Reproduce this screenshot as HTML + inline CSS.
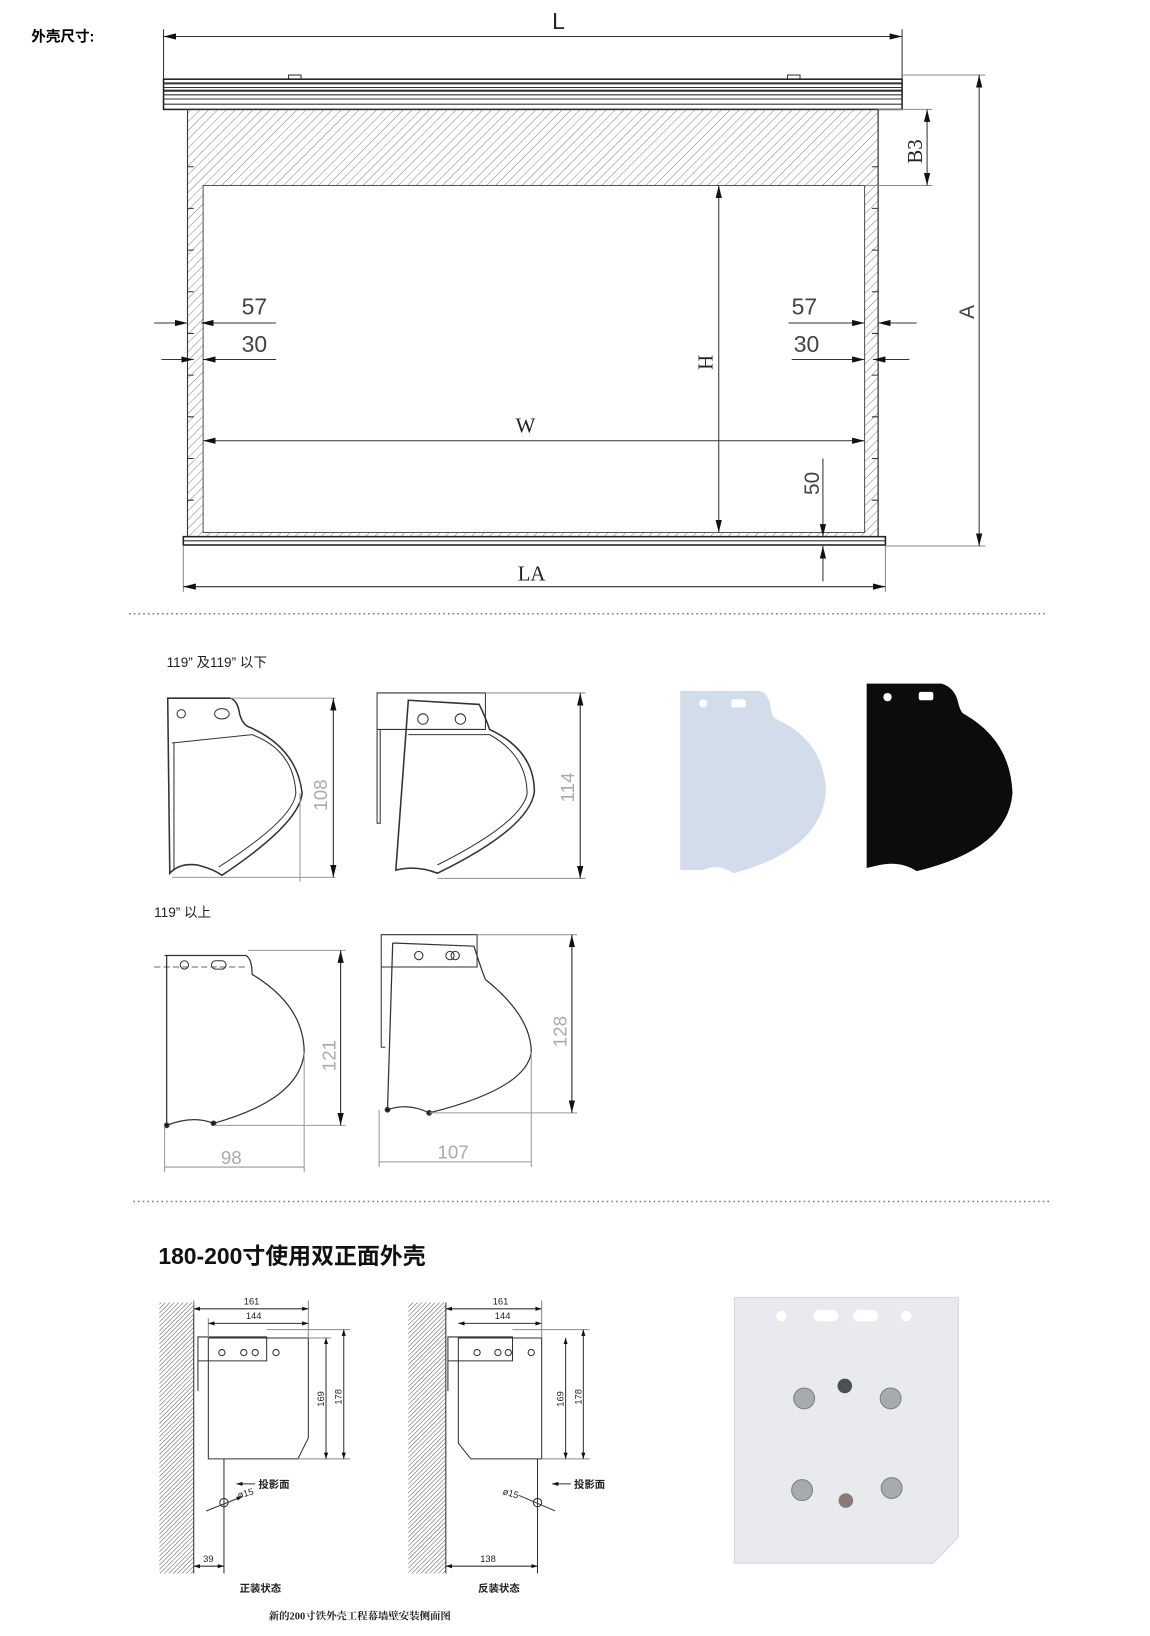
<!DOCTYPE html>
<html><head><meta charset="utf-8"><style>html,body{margin:0;padding:0;background:#fff}svg{display:block}</style></head>
<body>
<svg width="1150" height="1636" viewBox="0 0 1104 1570" preserveAspectRatio="none" xmlns="http://www.w3.org/2000/svg" font-family="Liberation Sans, Noto Sans CJK SC, sans-serif">
<defs>
<pattern id="h" width="6" height="6" patternUnits="userSpaceOnUse" patternTransform="rotate(45)"><line x1="0" y1="0" x2="0" y2="6" stroke="#666" stroke-width="0.8"/></pattern>
<pattern id="w" width="3" height="3" patternUnits="userSpaceOnUse" patternTransform="rotate(45)"><line x1="0" y1="0" x2="0" y2="3" stroke="#555" stroke-width="1"/></pattern>
<marker id="a" markerWidth="12" markerHeight="6" refX="12" refY="3" orient="auto" markerUnits="userSpaceOnUse"><path d="M0,0 L12,3 L0,6z" fill="#111"/></marker>
<marker id="b" markerWidth="12" markerHeight="6" refX="0" refY="3" orient="auto" markerUnits="userSpaceOnUse"><path d="M12,0 L0,3 L12,6z" fill="#111"/></marker>
<marker id="sa" markerWidth="6" markerHeight="4" refX="6" refY="2" orient="auto" markerUnits="userSpaceOnUse"><path d="M0,0 L6,2 L0,4z" fill="#111"/></marker>
<marker id="sb" markerWidth="6" markerHeight="4" refX="0" refY="2" orient="auto" markerUnits="userSpaceOnUse"><path d="M6,0 L0,2 L6,4z" fill="#111"/></marker>
</defs>
<text x="30" y="40" font-size="14" font-weight="bold">外壳尺寸:</text>

<!-- TOP DRAWING -->
<g stroke="#333" fill="none" stroke-width="1">
<line x1="157" y1="28" x2="157" y2="76"/><line x1="866" y1="28" x2="866" y2="76"/>
<line x1="157" y1="35" x2="866" y2="35" marker-start="url(#b)" marker-end="url(#a)"/>
<rect x="277" y="72" width="12" height="4" fill="#fff"/><rect x="756" y="72" width="12" height="4" fill="#fff"/>
<rect x="157" y="76" width="709" height="29" fill="#fff" stroke="#222" stroke-width="1.5"/>
<line x1="157" y1="80" x2="866" y2="80" stroke-width="2"/><line x1="157" y1="84" x2="866" y2="84"/><line x1="157" y1="87" x2="866" y2="87" stroke-width="2"/><line x1="157" y1="91" x2="866" y2="91"/><line x1="157" y1="95" x2="866" y2="95"/><line x1="157" y1="100" x2="866" y2="100"/>
<path d="M180,105 H843 V515 H180 Z" fill="url(#h)" stroke="#333"/>
<rect x="195" y="178" width="635" height="333" fill="#fff" stroke="#555"/>
<line x1="180" y1="105" x2="180" y2="515"/><line x1="843" y1="105" x2="843" y2="515"/>
<path d="M180,160 h6 M180,200 h6 M180,240 h6 M180,280 h6 M180,320 h6 M180,360 h6 M180,400 h6 M180,440 h6 M180,480 h6 M843,160 h-6 M843,200 h-6 M843,240 h-6 M843,280 h-6 M843,320 h-6 M843,360 h-6 M843,400 h-6 M843,440 h-6 M843,480 h-6"/>
<rect x="176" y="515" width="674" height="8" fill="#fff" stroke="#222" stroke-width="1.5"/>
<line x1="176" y1="519" x2="850" y2="519"/>
<!-- A -->
<line x1="866" y1="72" x2="946" y2="72" stroke="#888"/><line x1="850" y1="524" x2="946" y2="524" stroke="#888"/>
<line x1="940" y1="72" x2="940" y2="524" marker-start="url(#b)" marker-end="url(#a)"/>
<!-- B3 -->
<line x1="843" y1="105" x2="895" y2="105" stroke="#888"/><line x1="830" y1="178" x2="895" y2="178" stroke="#888"/>
<line x1="890" y1="105" x2="890" y2="178" marker-start="url(#b)" marker-end="url(#a)"/>
<!-- H -->
<line x1="690" y1="178" x2="690" y2="511" marker-start="url(#b)" marker-end="url(#a)"/>
<!-- W -->
<line x1="195" y1="423" x2="830" y2="423" marker-start="url(#b)" marker-end="url(#a)"/>
<!-- LA -->
<line x1="176" y1="524" x2="176" y2="568" stroke="#888"/><line x1="850" y1="524" x2="850" y2="568" stroke="#888"/>
<line x1="176" y1="563" x2="850" y2="563" marker-start="url(#b)" marker-end="url(#a)"/>
<!-- 50 -->
<line x1="790" y1="440" x2="790" y2="515" marker-end="url(#a)"/>
<line x1="790" y1="558" x2="790" y2="524" marker-end="url(#a)"/>
<!-- 57/30 -->
<line x1="148" y1="310" x2="180" y2="310" marker-end="url(#a)"/><line x1="265" y1="310" x2="193" y2="310" marker-end="url(#a)"/>
<line x1="155" y1="345" x2="186" y2="345" marker-end="url(#a)"/><line x1="265" y1="345" x2="195" y2="345" marker-end="url(#a)"/>
<line x1="757" y1="310" x2="830" y2="310" marker-end="url(#a)"/><line x1="880" y1="310" x2="843" y2="310" marker-end="url(#a)"/>
<line x1="760" y1="345" x2="830" y2="345" marker-end="url(#a)"/><line x1="873" y1="345" x2="838" y2="345" marker-end="url(#a)"/>
</g>
<g fill="#222" font-size="22">
<text x="530" y="28">L</text>
<text x="232" y="302" fill="#444">57</text><text x="232" y="338" fill="#444">30</text>
<text x="760" y="302" fill="#444">57</text><text x="762" y="338" fill="#444">30</text>
<text font-family="Liberation Serif, serif" x="495" y="415" font-size="20">W</text>
<text font-family="Liberation Serif, serif" x="497" y="557" font-size="20">LA</text>
<text font-family="Liberation Serif, serif" font-size="20" transform="translate(885,157) rotate(-90)">B3</text>
<text font-family="Liberation Serif, serif" font-size="20" transform="translate(684,355) rotate(-90)">H</text>
<text font-size="20" transform="translate(935,306) rotate(-90)" fill="#444">A</text>
<text font-size="20" transform="translate(786,475) rotate(-90)" fill="#444">50</text>
</g>
<line x1="124" y1="589" x2="1005" y2="589" stroke="#777" stroke-width="1.5" stroke-dasharray="1.5,3"/>

<!-- MIDDLE -->
<g font-size="13" fill="#222"><text x="160" y="640">119” 及119” 以下</text><text x="148" y="880">119” 以上</text></g>
<g fill="none" stroke="#333" stroke-width="1.5">
<path d="M161,670 H221 Q228,672 230,685 Q233,696 240,698 Q285,718 290,761 Q288,790 213,840 Q205,834 189,830 Q172,828 163,838 Z"/>
<path d="M165,713 L242,705 Q282,720 284,761 Q282,786 210,832" stroke-width="1"/>
<line x1="167" y1="713" x2="167" y2="834" stroke-width="1"/>
<circle cx="174" cy="685" r="4" stroke-width="1"/><ellipse cx="213" cy="685" rx="7" ry="5" stroke-width="1"/>
<path d="M362,665 H466 V700 H362 Z M362,665 V790 H365 V700" stroke-width="1"/>
<path d="M392,672 L460,676 Q466,688 470,700 Q513,720 513,760 Q508,795 420,838 Q400,830 380,835 Z"/>
<path d="M392,705 H470 Q506,725 506,762 Q500,790 420,830" stroke-width="1"/>
<circle cx="406" cy="690" r="5" stroke-width="1"/><circle cx="442" cy="690" r="5" stroke-width="1"/>
<path d="M158,917 H236 Q242,920 242,935 Q292,965 292,1010 Q288,1055 205,1078 Q185,1070 160,1080 V917" stroke-width="1.2"/>
<circle cx="160" cy="1080" r="2" fill="#111"/><circle cx="205" cy="1078" r="2" fill="#111"/>
<line x1="148" y1="928" x2="235" y2="928" stroke-width="0.8" stroke-dasharray="6,3"/>
<circle cx="177" cy="926" r="4" stroke-width="1"/><rect x="203" y="922" width="14" height="8" rx="4" stroke-width="1"/>
<path d="M366,897 H458 V928 H366 Z M366,897 V1005 H370" stroke-width="1"/>
<path d="M377,905 L455,908 Q462,930 466,940 Q510,975 510,1010 Q505,1045 412,1068 Q392,1058 372,1065 L377,905" stroke-width="1.2"/>
<circle cx="372" cy="1065" r="2" fill="#111"/><circle cx="412" cy="1068" r="2" fill="#111"/>
<circle cx="402" cy="917" r="4" stroke-width="1"/><circle cx="432" cy="917" r="4" stroke-width="1"/><circle cx="437" cy="917" r="4" stroke-width="1"/>
</g>
<g stroke="#999" stroke-width="1" fill="none">
<line x1="221" y1="670" x2="322" y2="670"/><line x1="165" y1="842" x2="322" y2="842"/><line x1="288" y1="761" x2="288" y2="846"/>
<line x1="466" y1="665" x2="562" y2="665"/><line x1="420" y1="843" x2="562" y2="843"/>
<line x1="238" y1="912" x2="332" y2="912"/><line x1="205" y1="1080" x2="332" y2="1080"/>
<line x1="458" y1="897" x2="554" y2="897"/><line x1="412" y1="1068" x2="554" y2="1068"/>
<line x1="158" y1="1080" x2="158" y2="1125"/><line x1="292" y1="1010" x2="292" y2="1125"/>
<line x1="364" y1="1065" x2="364" y2="1120"/><line x1="510" y1="1010" x2="510" y2="1120"/>
<line x1="158" y1="1120" x2="292" y2="1120"/><line x1="364" y1="1115" x2="510" y2="1115"/>
</g>
<g stroke="#222" stroke-width="1">
<line x1="320" y1="670" x2="320" y2="842" marker-start="url(#b)" marker-end="url(#a)"/>
<line x1="557" y1="665" x2="557" y2="843" marker-start="url(#b)" marker-end="url(#a)"/>
<line x1="327" y1="912" x2="327" y2="1080" marker-start="url(#b)" marker-end="url(#a)"/>
<line x1="549" y1="897" x2="549" y2="1068" marker-start="url(#b)" marker-end="url(#a)"/>
</g>
<g fill="#aaa" font-size="18">
<text transform="translate(314,778) rotate(-90)">108</text>
<text transform="translate(551,770) rotate(-90)">114</text>
<text transform="translate(322,1028) rotate(-90)">121</text>
<text transform="translate(544,1005) rotate(-90)">128</text>
<text x="212" y="1117">98</text><text x="420" y="1112">107</text>
</g>
<!-- photos -->
<path d="M653,663 H729 Q738,665 740,680 Q741,688 745,690 Q790,710 793,758 Q790,815 704,838 Q690,828 675,835 L653,835 Z" fill="#d3dcea"/>
<circle cx="675" cy="675" r="4" fill="#fff"/><rect x="702" y="671" width="14" height="8" rx="2" fill="#fff"/>
<path d="M832,656 H904 Q917,660 920,675 Q922,683 925,685 Q970,710 972,761 Q968,815 880,836 Q865,826 845,830 L832,833 Z" fill="#0c0c0c"/>
<circle cx="852" cy="669" r="4" fill="#fff"/><rect x="882" y="664" width="14" height="8" rx="2" fill="#fff"/>

<line x1="128" y1="1153" x2="1010" y2="1153" stroke="#777" stroke-width="1.5" stroke-dasharray="1.5,3"/>

<!-- BOTTOM -->
<text x="152" y="1213" font-size="22" font-weight="bold" fill="#111">180-200寸使用双正面外壳</text>
<g stroke="#333" stroke-width="1" fill="none">
<rect x="153" y="1250" width="33" height="260" fill="url(#w)" stroke="none"/><line x1="186" y1="1250" x2="186" y2="1510"/>
<path d="M200,1284 H296 V1380 L286,1400 H200 Z"/>
<path d="M190,1283 H256 V1306 H190 Z M190,1283 V1335"/>
<circle cx="213" cy="1298" r="3"/><circle cx="234" cy="1298" r="3"/><circle cx="245" cy="1298" r="3"/><circle cx="265" cy="1298" r="3"/>
<line x1="186" y1="1248" x2="186" y2="1260" stroke="#888"/><line x1="296" y1="1248" x2="296" y2="1284" stroke="#888"/><line x1="200" y1="1265" x2="200" y2="1284" stroke="#888"/>
<line x1="186" y1="1256" x2="296" y2="1256" marker-start="url(#sb)" marker-end="url(#sa)"/>
<line x1="200" y1="1270" x2="296" y2="1270" marker-start="url(#sb)" marker-end="url(#sa)"/>
<line x1="256" y1="1276" x2="336" y2="1276" stroke="#888"/><line x1="296" y1="1284" x2="318" y2="1284" stroke="#888"/><line x1="286" y1="1400" x2="336" y2="1400" stroke="#888"/>
<line x1="313" y1="1284" x2="313" y2="1400" marker-start="url(#sb)" marker-end="url(#sa)"/>
<line x1="330" y1="1276" x2="330" y2="1400" marker-start="url(#sb)" marker-end="url(#sa)"/>
<line x1="215" y1="1400" x2="215" y2="1510"/>
<circle cx="215" cy="1442" r="4"/><line x1="198" y1="1450" x2="233" y2="1436" marker-end="url(#sa)"/>
<line x1="245" y1="1424" x2="227" y2="1424" marker-end="url(#sa)"/>
<line x1="186" y1="1503" x2="215" y2="1503" marker-start="url(#sb)" marker-end="url(#sa)"/>

<rect x="392" y="1250" width="36" height="260" fill="url(#w)" stroke="none"/><line x1="428" y1="1250" x2="428" y2="1510"/>
<path d="M440,1284 H520 V1400 H452 L440,1385 Z"/>
<path d="M430,1283 H492 V1306 H430 Z M430,1283 V1335"/>
<circle cx="458" cy="1298" r="3"/><circle cx="478" cy="1298" r="3"/><circle cx="488" cy="1298" r="3"/><circle cx="510" cy="1298" r="3"/>
<line x1="428" y1="1256" x2="520" y2="1256" marker-start="url(#sb)" marker-end="url(#sa)"/>
<line x1="440" y1="1270" x2="520" y2="1270" marker-start="url(#sb)" marker-end="url(#sa)"/>
<line x1="520" y1="1248" x2="520" y2="1284" stroke="#888"/>
<line x1="492" y1="1276" x2="566" y2="1276" stroke="#888"/><line x1="520" y1="1400" x2="566" y2="1400" stroke="#888"/>
<line x1="543" y1="1284" x2="543" y2="1400" marker-start="url(#sb)" marker-end="url(#sa)"/>
<line x1="560" y1="1276" x2="560" y2="1400" marker-start="url(#sb)" marker-end="url(#sa)"/>
<line x1="516" y1="1400" x2="516" y2="1510"/>
<circle cx="516" cy="1442" r="4"/><line x1="498" y1="1435" x2="533" y2="1450"/>
<line x1="548" y1="1424" x2="530" y2="1424" marker-end="url(#sa)"/>
<line x1="428" y1="1503" x2="516" y2="1503" marker-start="url(#sb)" marker-end="url(#sa)"/>
</g>
<g font-size="9" fill="#222">
<text x="234" y="1252">161</text><text x="236" y="1266">144</text>
<text x="473" y="1252">161</text><text x="475" y="1266">144</text>
<text transform="translate(311,1350) rotate(-90)">169</text><text transform="translate(328,1348) rotate(-90)">178</text>
<text transform="translate(541,1350) rotate(-90)">169</text><text transform="translate(558,1348) rotate(-90)">178</text>
<text x="229" y="1438" transform="rotate(-15 229 1438)">ø15</text><text x="482" y="1434" transform="rotate(15 482 1434)">ø15</text>
<text x="195" y="1499">39</text><text x="461" y="1499">138</text>
<text x="248" y="1428" font-weight="bold" font-size="10">投影面</text><text x="551" y="1428" font-weight="bold" font-size="10">投影面</text>
<text x="230" y="1528" font-weight="bold" font-size="10">正装状态</text><text x="459" y="1528" font-weight="bold" font-size="10">反装状态</text>
<text x="258" y="1554" font-weight="bold" font-size="10" font-family="Liberation Serif, Noto Serif CJK SC, serif">新的200寸铁外壳工程幕墙壁安装侧面图</text>
</g>
<!-- plate -->
<path d="M705,1245 H920 V1475 L896,1500 H705 Z" fill="#e8eaed" stroke="#d5d8dc"/>
<g fill="#fff"><circle cx="750" cy="1263" r="5"/><rect x="781" y="1257" width="24" height="11" rx="5.5"/><rect x="819" y="1257" width="24" height="11" rx="5.5"/><circle cx="870" cy="1263" r="5"/></g>
<g fill="#a6abb0" stroke="#7b8085"><circle cx="772" cy="1342" r="10"/><circle cx="855" cy="1342" r="10"/><circle cx="770" cy="1430" r="10"/><circle cx="856" cy="1428" r="10"/></g>
<circle cx="811" cy="1330" r="7" fill="#4a5058"/><circle cx="812" cy="1440" r="7" fill="#8a7a78"/>
</svg>
</body></html>
